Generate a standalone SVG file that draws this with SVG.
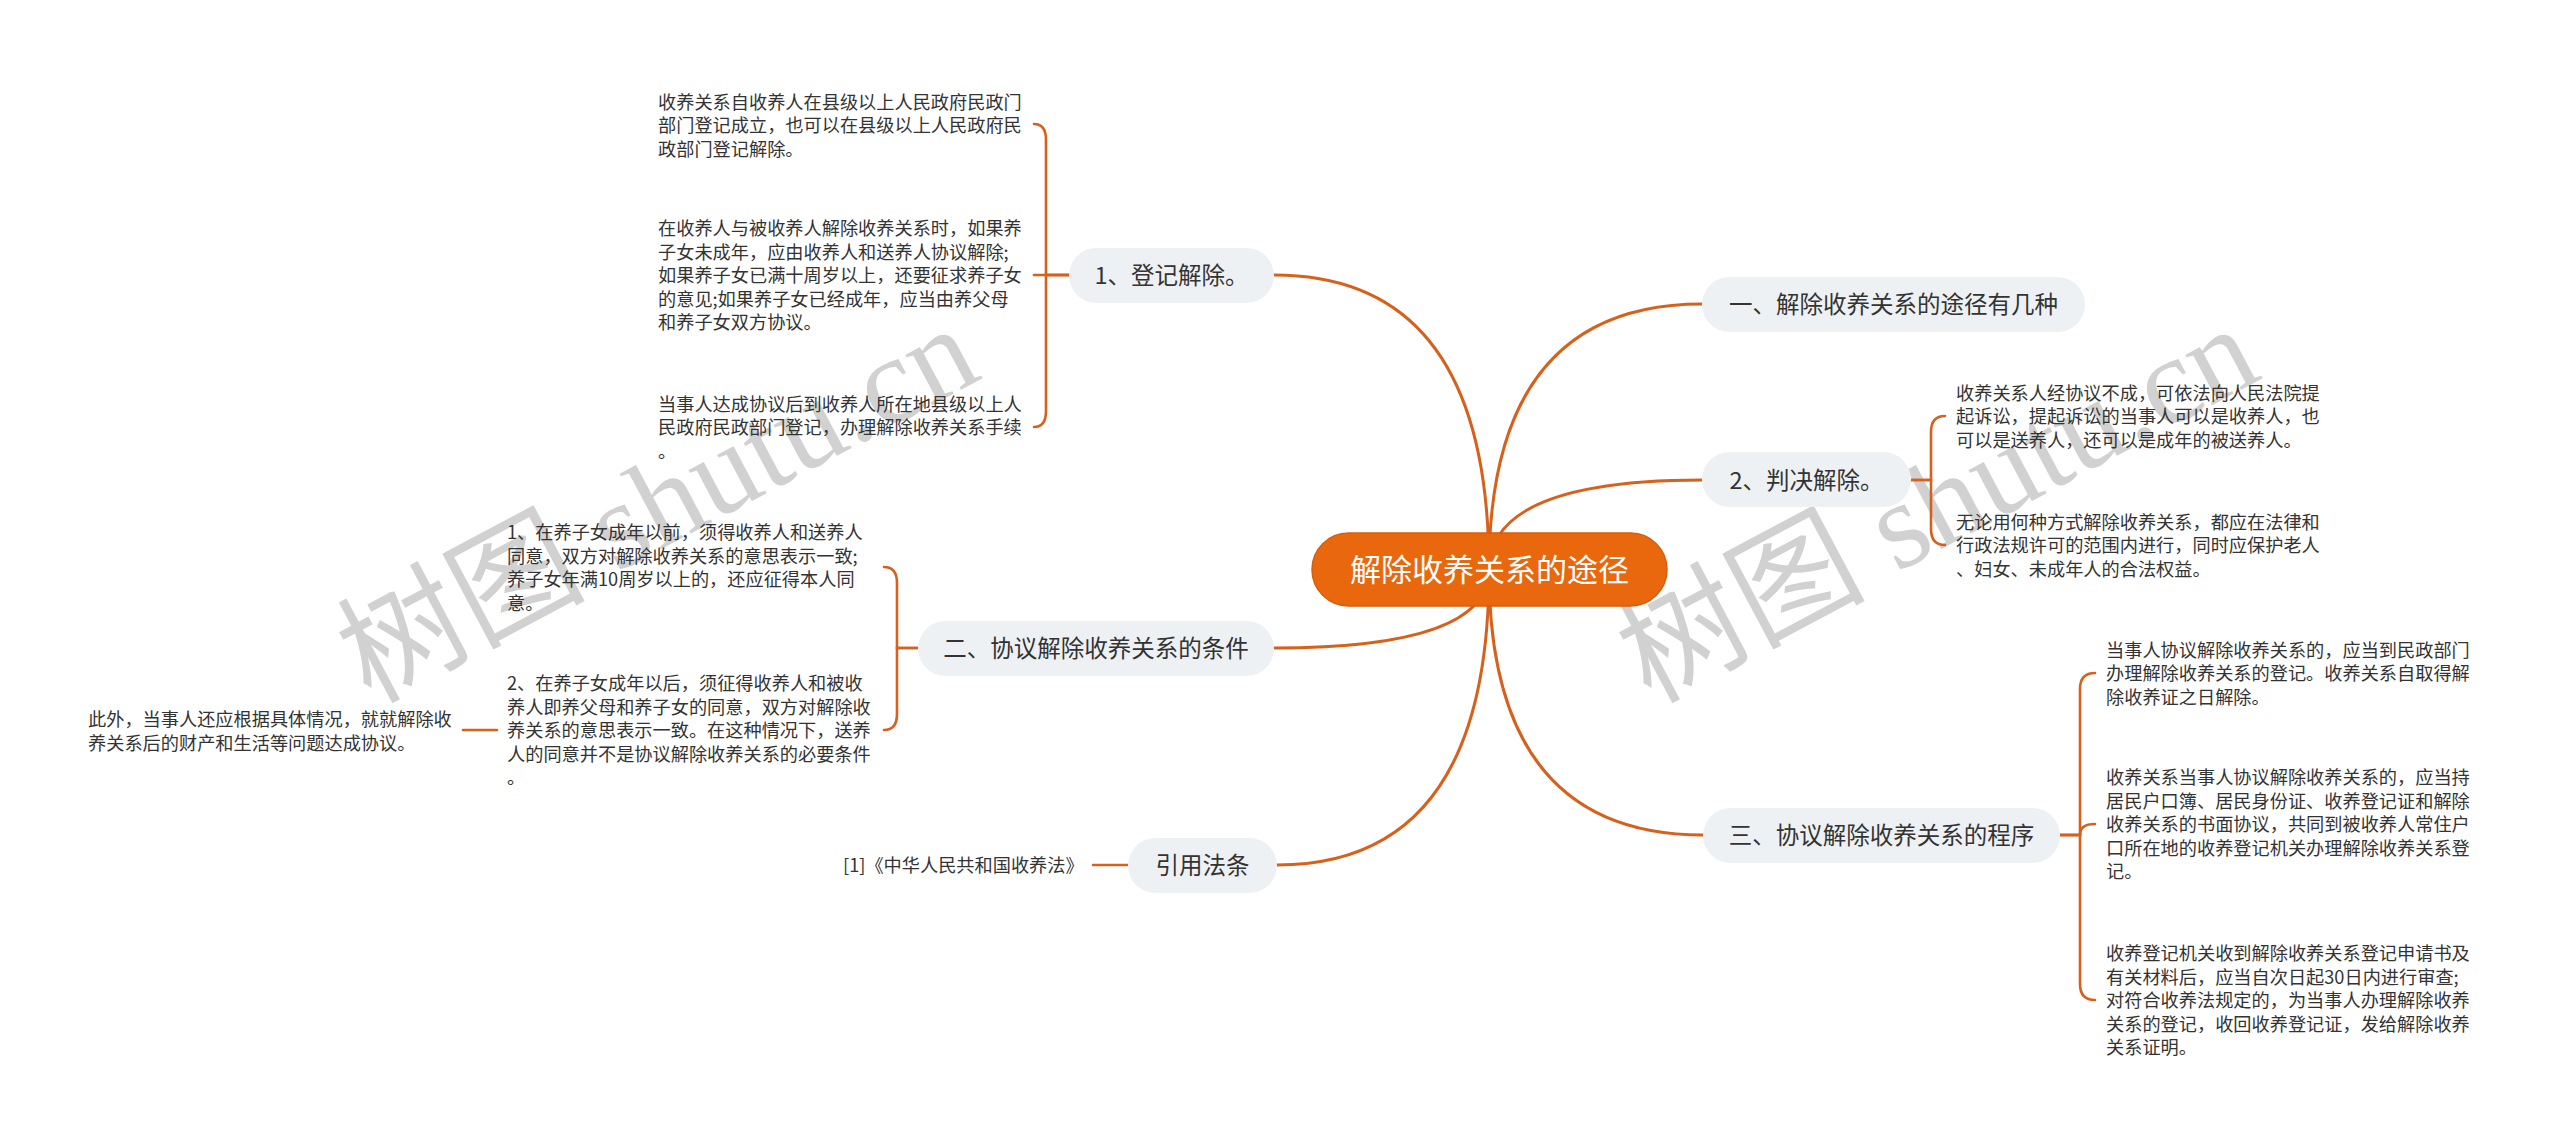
<svg xmlns="http://www.w3.org/2000/svg" width="2560" height="1146" viewBox="0 0 2560 1146">
<style>
.wm{font-family:"Liberation Serif","Noto Sans CJK SC",serif;font-size:124px;fill:#c9c9c9;opacity:0.85}
.ln{fill:none;stroke:#D6611D;stroke-width:3;stroke-linecap:round}
.sl{fill:none;stroke:#D6611D;stroke-width:2.6;stroke-linecap:round}
.nd{fill:#EEF1F4}
.nt{font-family:"Noto Sans CJK SC","Noto Sans",sans-serif;font-size:23.5px;fill:#333333;text-anchor:middle}
.ct{font-family:"Noto Sans CJK SC","Noto Sans",sans-serif;font-size:31px;fill:#ffffff;text-anchor:middle}
.tx{font-family:"Noto Sans CJK SC","Noto Sans",sans-serif;font-size:18.2px;fill:#333333}
</style>
<rect width="2560" height="1146" fill="#ffffff"/>
<g id="watermarks">
<text class="wm" transform="translate(370,704) rotate(-28)">树图 shutu.cn</text>
<text class="wm" transform="translate(1650,704) rotate(-28)">树图 shutu.cn</text>
</g>
<g id="connectors">
<path class="ln" d="M1489 570 Q1489 304 1702 304"/>
<path class="ln" d="M1489 570 Q1489 480 1702 480"/>
<path class="ln" d="M1489 570 Q1489 835 1703 835"/>
<path class="ln" d="M1489 570 Q1489 275 1274 275"/>
<path class="ln" d="M1489 570 Q1489 648 1274 648"/>
<path class="ln" d="M1489 570 Q1489 865 1277 865"/>
<path class="sl" d="M1069 275 H1046 V140 Q1046 124 1034 124"/>
<path class="sl" d="M1069 275 H1034"/>
<path class="sl" d="M1069 275 H1046 V411 Q1046 427 1034 427"/>
<path class="sl" d="M918 648 H897 V583 Q897 567 884 567"/>
<path class="sl" d="M918 648 H897 V714 Q897 730 884 730"/>
<path class="sl" d="M497 730 H463"/>
<path class="sl" d="M1128 865 H1093"/>
<path class="sl" d="M1911 480 H1931 V432 Q1931 416 1945 416"/>
<path class="sl" d="M1911 480 H1931 V529 Q1931 545 1945 545"/>
<path class="sl" d="M2060 835 H2080 V689 Q2080 673 2095 673"/>
<path class="sl" d="M2060 835 H2080 Q2080 824 2095 824"/>
<path class="sl" d="M2060 835 H2080 V984 Q2080 1000 2095 1000"/>
</g>
<g id="center">
<rect x="1312" y="533" width="355" height="73" rx="36.5" fill="#EA680D" stroke="#D75E0B" stroke-width="1.5"/>
<text class="ct" x="1489.5" y="581">解除收养关系的途径</text>
</g>
<g id="n-yi">
<rect class="nd" x="1702" y="277" width="383" height="55" rx="27.5"/>
<text class="nt" x="1893.5" y="313">一、解除收养关系的途径有几种</text>
</g>
<g id="n-panjue">
<rect class="nd" x="1702" y="452" width="209" height="55" rx="27.5"/>
<text class="nt" x="1806.5" y="488.5">2、判决解除。</text>
</g>
<g id="n-san">
<rect class="nd" x="1703" y="808" width="357" height="55" rx="27.5"/>
<text class="nt" x="1881.5" y="844">三、协议解除收养关系的程序</text>
</g>
<g id="n-dengji">
<rect class="nd" x="1069" y="248" width="205" height="55" rx="27.5"/>
<text class="nt" x="1171.5" y="284">1、登记解除。</text>
</g>
<g id="n-er">
<rect class="nd" x="918" y="621" width="356" height="55" rx="27.5"/>
<text class="nt" x="1096" y="657">二、协议解除收养关系的条件</text>
</g>
<g id="n-yinyong">
<rect class="nd" x="1128" y="838" width="149" height="55" rx="27.5"/>
<text class="nt" x="1202.5" y="874">引用法条</text>
</g>
<g id="t-dengji-1">
<text class="tx"><tspan x="658" y="108.5">收养关系自收养人在县级以上人民政府民政门</tspan><tspan x="658" y="132">部门登记成立，也可以在县级以上人民政府民</tspan><tspan x="658" y="155.5">政部门登记解除。</tspan></text>
</g>
<g id="t-dengji-2">
<text class="tx"><tspan x="658" y="235">在收养人与被收养人解除收养关系时，如果养</tspan><tspan x="658" y="258.5">子女未成年，应由收养人和送养人协议解除;</tspan><tspan x="658" y="282">如果养子女已满十周岁以上，还要征求养子女</tspan><tspan x="658" y="305.5">的意见;如果养子女已经成年，应当由养父母</tspan><tspan x="658" y="329">和养子女双方协议。</tspan></text>
</g>
<g id="t-dengji-3">
<text class="tx"><tspan x="658" y="410.5">当事人达成协议后到收养人所在地县级以上人</tspan><tspan x="658" y="434">民政府民政部门登记，办理解除收养关系手续</tspan><tspan x="658" y="457.5">。</tspan></text>
</g>
<g id="t-er-1">
<text class="tx"><tspan x="507" y="539">1、在养子女成年以前，须得收养人和送养人</tspan><tspan x="507" y="562.5">同意，双方对解除收养关系的意思表示一致;</tspan><tspan x="507" y="586">养子女年满10周岁以上的，还应征得本人同</tspan><tspan x="507" y="609.5">意。</tspan></text>
</g>
<g id="t-er-2">
<text class="tx"><tspan x="507" y="690">2、在养子女成年以后，须征得收养人和被收</tspan><tspan x="507" y="713.5">养人即养父母和养子女的同意，双方对解除收</tspan><tspan x="507" y="737">养关系的意思表示一致。在这种情况下，送养</tspan><tspan x="507" y="760.5">人的同意并不是协议解除收养关系的必要条件</tspan><tspan x="507" y="784">。</tspan></text>
</g>
<g id="t-ciwai">
<text class="tx"><tspan x="88" y="726">此外，当事人还应根据具体情况，就就解除收</tspan><tspan x="88" y="749.5">养关系后的财产和生活等问题达成协议。</tspan></text>
</g>
<g id="t-yinyong">
<text class="tx" x="843" y="872">[1]《中华人民共和国收养法》</text>
</g>
<g id="t-panjue-1">
<text class="tx"><tspan x="1956" y="399.5">收养关系人经协议不成，可依法向人民法院提</tspan><tspan x="1956" y="423">起诉讼，提起诉讼的当事人可以是收养人，也</tspan><tspan x="1956" y="446.5">可以是送养人，还可以是成年的被送养人。</tspan></text>
</g>
<g id="t-panjue-2">
<text class="tx"><tspan x="1956" y="528.5">无论用何种方式解除收养关系，都应在法律和</tspan><tspan x="1956" y="552">行政法规许可的范围内进行，同时应保护老人</tspan><tspan x="1956" y="575.5">、妇女、未成年人的合法权益。</tspan></text>
</g>
<g id="t-san-1">
<text class="tx"><tspan x="2106" y="656.5">当事人协议解除收养关系的，应当到民政部门</tspan><tspan x="2106" y="680">办理解除收养关系的登记。收养关系自取得解</tspan><tspan x="2106" y="703.5">除收养证之日解除。</tspan></text>
</g>
<g id="t-san-2">
<text class="tx"><tspan x="2106" y="784">收养关系当事人协议解除收养关系的，应当持</tspan><tspan x="2106" y="807.5">居民户口簿、居民身份证、收养登记证和解除</tspan><tspan x="2106" y="831">收养关系的书面协议，共同到被收养人常住户</tspan><tspan x="2106" y="854.5">口所在地的收养登记机关办理解除收养关系登</tspan><tspan x="2106" y="878">记。</tspan></text>
</g>
<g id="t-san-3">
<text class="tx"><tspan x="2106" y="960">收养登记机关收到解除收养关系登记申请书及</tspan><tspan x="2106" y="983.5">有关材料后，应当自次日起30日内进行审查;</tspan><tspan x="2106" y="1007">对符合收养法规定的，为当事人办理解除收养</tspan><tspan x="2106" y="1030.5">关系的登记，收回收养登记证，发给解除收养</tspan><tspan x="2106" y="1054">关系证明。</tspan></text>
</g>
</svg>
